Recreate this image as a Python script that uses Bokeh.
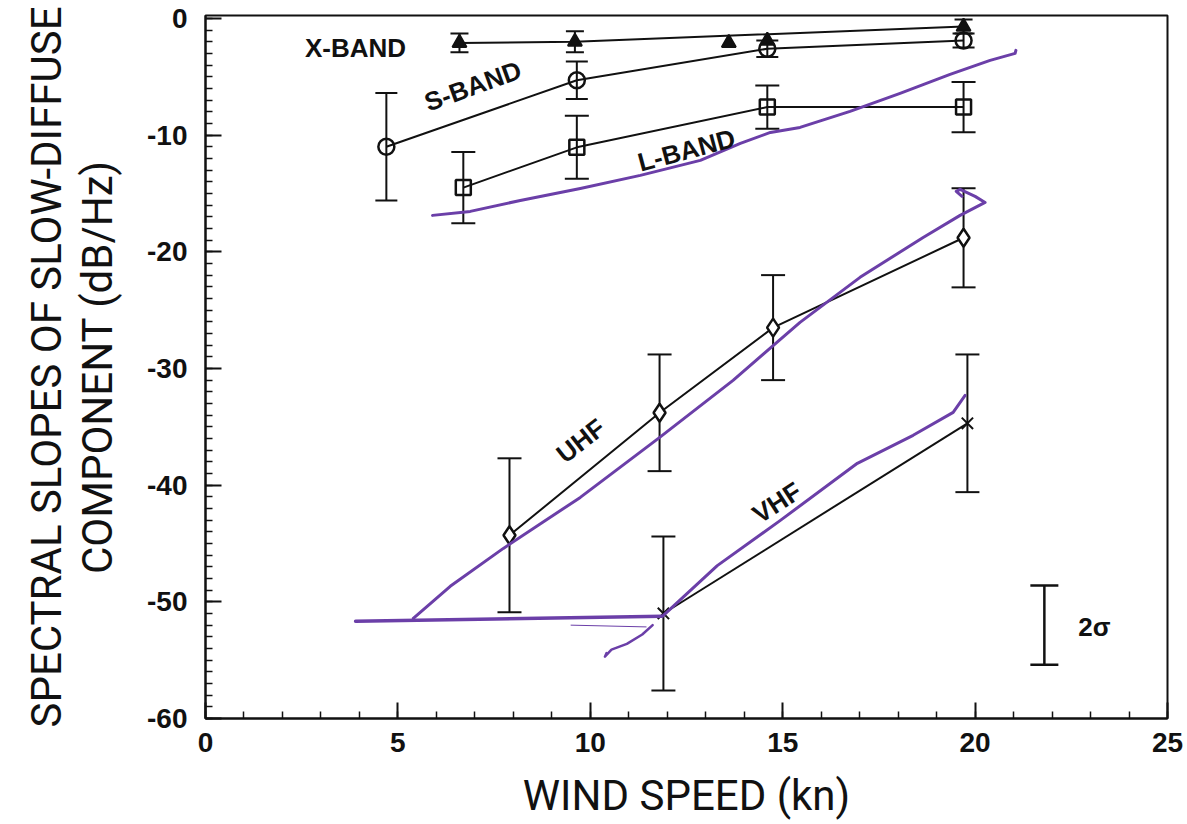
from bokeh.plotting import figure
from bokeh.models import (ColumnDataSource, Whisker, TeeHead, Label, Title,
                          SingleIntervalTicker)
from bokeh.embed import file_html
from bokeh.resources import INLINE

# ---- measured spectral slopes (dB/Hz) vs wind speed (kn), with 2-sigma half widths
xband_speed = [6.6, 9.6, 19.7]
xband_slope = [-2.1, -2.0, -0.7]
xband_err = [0.8, 0.9, 0.6]
xband_extra_speed = [13.6, 14.6]
xband_extra_slope = [-2.1, -1.9]

sband_speed = [4.7, 9.65, 14.6, 19.7]
sband_slope = [-11.0, -5.3, -2.6, -1.9]
sband_err = [4.6, 1.6, 0.7, 0.6]

lband_speed = [6.7, 9.65, 14.6, 19.7]
lband_slope = [-14.5, -11.05, -7.6, -7.6]
lband_err = [3.05, 2.7, 1.85, 2.15]

uhf_speed = [7.9, 11.8, 14.75, 19.7]
uhf_slope = [-44.3, -33.8, -26.5, -18.8]
uhf_err = [6.6, 5.0, 4.5, 4.25]

vhf_speed = [11.9, 19.8]
vhf_slope = [-51.0, -34.7]
vhf_err = [6.6, 5.9]

# reference 2-sigma bar
sigma_speed = [21.8]
sigma_top = [-48.6]
sigma_bottom = [-55.4]

# hand-drawn trend strokes
purple_l_x = [5.90, 6.88, 8.18, 9.74, 11.30, 12.86, 13.90, 14.68, 15.45, 16.75, 18.05, 19.35, 20.39, 21.04, 21.06]
purple_l_y = [-16.88, -16.54, -15.60, -14.57, -13.45, -12.17, -10.71, -9.77, -9.34, -7.97, -6.43, -4.80, -3.60, -3.00, -2.74]
purple_uhf_x = [5.40, 6.36, 7.74, 9.74, 11.77, 13.71, 15.45, 17.01, 18.65, 19.61, 20.26, 20.0, 19.61, 19.51, 19.66]
purple_uhf_y = [-51.41, -48.67, -45.42, -41.05, -35.99, -31.02, -26.05, -22.19, -18.77, -16.88, -15.77, -15.25, -14.65, -14.82, -15.25]
purple_vhf_x = [11.90, 13.30, 14.94, 16.94, 18.39, 19.43, 19.74]
purple_vhf_y = [-51.16, -46.90, -43.02, -38.13, -35.73, -33.76, -32.31]
purple_base_x = [3.90, 11.87]
purple_base_y = [-51.67, -51.24]
purple_thin_x = [9.5, 11.45]
purple_thin_y = [-52.0, -52.15]
purple_hook_x = [11.62, 11.35, 10.95, 10.55, 10.38, 10.42]
purple_hook_y = [-52.0, -52.8, -53.6, -54.1, -54.7, -54.4]

x_ticks = [0, 5, 10, 15, 20, 25]
x_tick_labels = ["0", "5", "10", "15", "20", "25"]
y_ticks = [-60, -50, -40, -30, -20, -10, 0]
y_tick_labels = ["-60", "-50", "-40", "-30", "-20", "-10", "0"]

band_names = ["X-BAND", "S-BAND", "L-BAND", "UHF", "VHF"]

INK = "#111111"
PURPLE = "#6b3fa8"
TICK_FONT = "Liberation Sans"
TITLE_FONT = "Roboto"

p = figure(width=1187, height=824, x_range=(0, 25), y_range=(-60, 0.25),
           output_backend="svg", toolbar_location=None,
           min_border_left=205, min_border_right=20,
           min_border_top=15, min_border_bottom=106)
p.xgrid.visible = False
p.ygrid.visible = False
p.outline_line_color = INK
p.outline_line_width = 2
p.background_fill_color = "white"
p.border_fill_color = "white"

# axes: inward ticks, unit minor ticks
xa = p.xaxis[0]
xa.ticker = SingleIntervalTicker(interval=5, num_minor_ticks=5)
xa.major_label_overrides = {t: s for t, s in zip(x_ticks, x_tick_labels)}
ya = p.yaxis[0]
ya.ticker = SingleIntervalTicker(interval=10, num_minor_ticks=10)
ya.major_label_overrides = {t: s for t, s in zip(y_ticks, y_tick_labels)}
for ax in (xa, ya):
    ax.axis_line_color = INK
    ax.axis_line_width = 2
    ax.major_tick_line_color = INK
    ax.major_tick_line_width = 2
    ax.minor_tick_line_color = INK
    ax.minor_tick_line_width = 1.5
    ax.major_tick_in = 16
    ax.major_tick_out = 0
    ax.minor_tick_in = 7
    ax.minor_tick_out = 0
    ax.major_label_text_font = TICK_FONT
    ax.major_label_text_font_style = "bold"
    ax.major_label_text_font_size = "28px"
    ax.major_label_text_color = INK
    ax.axis_label_text_font = TITLE_FONT
    ax.axis_label_text_font_style = "normal"
    ax.axis_label_text_font_size = "42px"
    ax.axis_label_text_color = INK
xa.major_label_standoff = 14
ya.major_label_standoff = 18
xa.axis_label = "WIND SPEED (kn)"
xa.axis_label_standoff = 16
ya.axis_label = "COMPONENT (dB/Hz)"
ya.axis_label_standoff = 22

# first line of the vertical title, outside the axis label
p.add_layout(Title(text="SPECTRAL SLOPES OF SLOW-DIFFUSE", align="center",
                   text_font=TITLE_FONT, text_font_style="normal",
                   text_font_size="42px", text_color=INK, standoff=0), "left")


def whiskers(xs, ys, errs, head):
    src = ColumnDataSource(dict(x=xs,
                                upper=[y + e for y, e in zip(ys, errs)],
                                lower=[y - e for y, e in zip(ys, errs)]))
    w = Whisker(source=src, base="x", upper="upper", lower="lower",
                dimension="height", line_color=INK, line_width=2,
                upper_head=TeeHead(size=head, line_color=INK, line_width=2),
                lower_head=TeeHead(size=head, line_color=INK, line_width=2))
    p.add_layout(w)


# error bars
whiskers(xband_speed, xband_slope, xband_err, 18)
whiskers(sband_speed, sband_slope, sband_err, 22)
whiskers(lband_speed, lband_slope, lband_err, 24)
whiskers(uhf_speed, uhf_slope, uhf_err, 24)
whiskers(vhf_speed, vhf_slope, vhf_err, 24)

# connecting lines
for xs, ys in ((xband_speed, xband_slope), (sband_speed, sband_slope),
               (lband_speed, lband_slope), (uhf_speed, uhf_slope),
               (vhf_speed, vhf_slope)):
    p.line(xs, ys, line_color=INK, line_width=2)

# markers
p.scatter(xband_speed, xband_slope, marker="triangle", size=14,
          fill_color=INK, line_color=INK, line_width=2)
p.scatter(xband_extra_speed, xband_extra_slope, marker="triangle", size=14,
          fill_color=INK, line_color=INK, line_width=2)
p.scatter(sband_speed, sband_slope, marker="circle", size=16,
          fill_color=None, line_color=INK, line_width=2.5)
p.scatter(lband_speed, lband_slope, marker="square", size=15,
          fill_color=None, line_color=INK, line_width=2.5)
p.scatter(uhf_speed, uhf_slope, marker="diamond", size=18,
          fill_color="white", line_color=INK, line_width=2.5)
p.scatter(vhf_speed, vhf_slope, marker="x", size=16,
          line_color=INK, line_width=2)

# 2-sigma reference bar
sig_src = ColumnDataSource(dict(x=sigma_speed, upper=sigma_top, lower=sigma_bottom))
p.add_layout(Whisker(source=sig_src, base="x", upper="upper", lower="lower",
                     dimension="height", line_color=INK, line_width=2.5,
                     upper_head=TeeHead(size=28, line_color=INK, line_width=2.5),
                     lower_head=TeeHead(size=28, line_color=INK, line_width=2.5)))
p.add_layout(Label(x=23.1, y=-52.2, text="2σ", text_font=TICK_FONT,
                   text_font_style="bold", text_font_size="26px",
                   text_color=INK, text_align="center", text_baseline="middle"))

# band labels along the curves
band_pos = [(3.9, -2.5, 0), (6.95, -5.8, 20), (12.5, -11.3, 15),
            (9.75, -36.2, 38), (14.85, -41.5, 33)]
for name, (bx, by, ang) in zip(band_names, band_pos):
    p.add_layout(Label(x=bx, y=by, text=name, angle=ang, angle_units="deg",
                       text_font=TICK_FONT, text_font_style="bold",
                       text_font_size="26px", text_color=INK,
                       text_align="center", text_baseline="middle"))

# hand-drawn strokes
for xs, ys, lw in ((purple_l_x, purple_l_y, 3), (purple_uhf_x, purple_uhf_y, 3),
                   (purple_vhf_x, purple_vhf_y, 3), (purple_base_x, purple_base_y, 3.5),
                   (purple_thin_x, purple_thin_y, 1), (purple_hook_x, purple_hook_y, 2.5)):
    p.line(xs, ys, line_color=PURPLE, line_width=lw, line_join="round", line_cap="round")

open("out.html", "w").write(file_html(p, INLINE))
